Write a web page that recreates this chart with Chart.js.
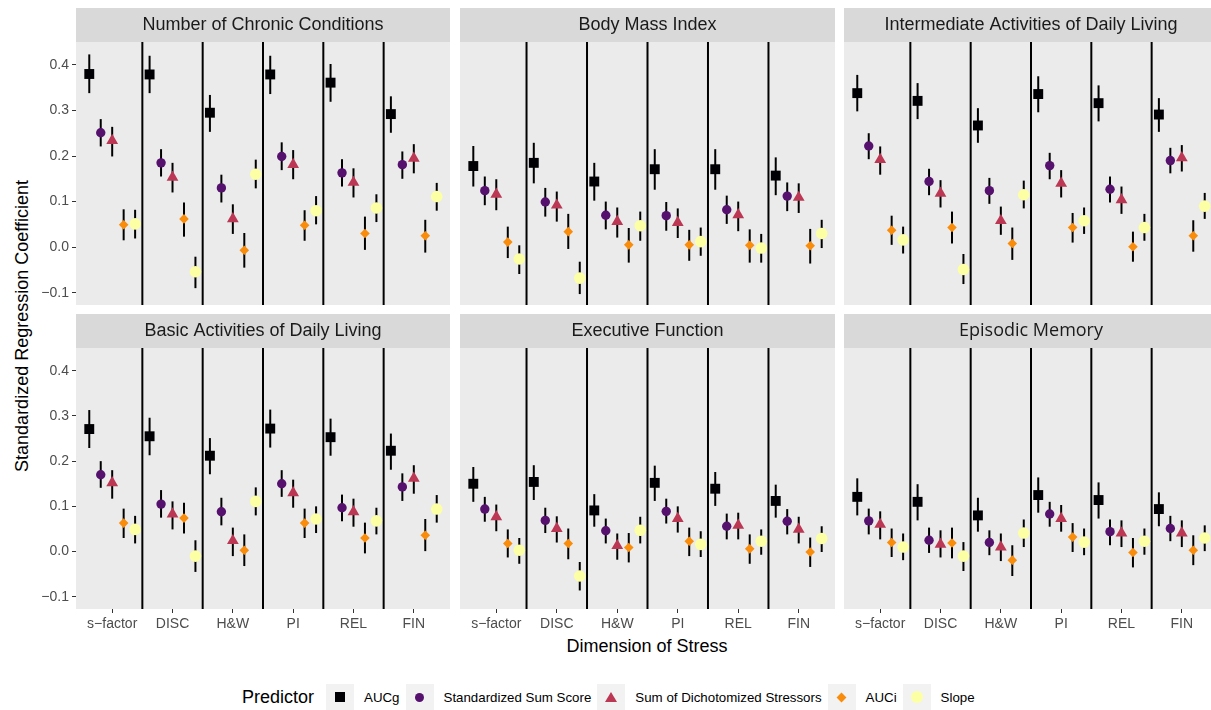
<!DOCTYPE html>
<html>
<head>
<meta charset="utf-8">
<script src="https://cdn.jsdelivr.net/npm/chart.js@4"></script>
<style>
  html, body { margin: 0; padding: 0; background: #fff; }
  body { width: 1211px; height: 710px; overflow: hidden; position: relative; font-family: 'Liberation Sans', Arial, sans-serif; }
  .panel { position: absolute; }
  .ytitle { position: absolute; left: 22px; top: 326px; transform: translate(-50%, -50%) rotate(-90deg); font-size: 18px; white-space: nowrap; color: #000; }
  .xtitle { position: absolute; left: 647px; top: 646px; transform: translate(-50%, -50%); font-size: 18px; white-space: nowrap; color: #000; }
  .legend { position: absolute; left: 242px; top: 684px; height: 26px; display: flex; align-items: center; font-size: 13.3px; color: #000; white-space: nowrap; }
  .legend .head { font-size: 18px; margin-right: 12px; }
  .legend .key { width: 28px; height: 26px; background: #f2f2f2; display: flex; align-items: center; justify-content: center; }
  .legend .lab { margin-left: 10px; margin-right: 6px; }
  .sq { width: 10px; height: 10px; background: #000004; }
  .ci { width: 9px; height: 9px; border-radius: 50%; background: #56106E; }
  .tr { width: 0; height: 0; border-left: 6px solid transparent; border-right: 6px solid transparent; border-bottom: 10px solid #BB3754; }
  .di { width: 7px; height: 7px; background: #F98C0A; transform: rotate(45deg); }
  .sl { width: 12px; height: 12px; border-radius: 50%; background: #FCFFA4; }
</style>
</head>
<body>
<div class="ytitle">Standardized Regression Coefficient</div>
<div class="xtitle">Dimension of Stress</div>
<div class="legend">
  <span class="head">Predictor</span>
  <span class="key"><span class="sq"></span></span><span class="lab">AUCg</span>
  <span class="key"><span class="ci"></span></span><span class="lab">Standardized Sum Score</span>
  <span class="key"><span class="tr"></span></span><span class="lab">Sum of Dichotomized Stressors</span>
  <span class="key"><span class="di"></span></span><span class="lab">AUCi</span>
  <span class="key"><span class="sl"></span></span><span class="lab">Slope</span>
</div>
<script>
const dimensions = ['s−factor', 'DISC', 'H&W', 'PI', 'REL', 'FIN'];
const predictors = ['AUCg', 'Standardized Sum Score', 'Sum of Dichotomized Stressors', 'AUCi', 'Slope'];
const outcomes = ['Number of Chronic Conditions', 'Body Mass Index', 'Intermediate Activities of Daily Living',
  'Basic Activities of Daily Living', 'Executive Function', 'Episodic Memory'];
const yTicks = [-0.1, 0, 0.1, 0.2, 0.3, 0.4];

// rows = predictors, columns = dimensions
const chronicEst = [
  [0.380, 0.379, 0.295, 0.379, 0.361, 0.292],
  [0.251, 0.185, 0.130, 0.199, 0.163, 0.181],
  [0.234, 0.153, 0.062, 0.181, 0.142, 0.195],
  [0.049, 0.062, -0.007, 0.048, 0.030, 0.025],
  [0.051, -0.054, 0.160, 0.080, 0.086, 0.111]
];
const chronicLo = [
  [0.338, 0.338, 0.253, 0.336, 0.319, 0.251],
  [0.221, 0.155, 0.098, 0.169, 0.133, 0.150],
  [0.199, 0.120, 0.029, 0.149, 0.109, 0.162],
  [0.015, 0.023, -0.045, 0.014, -0.006, -0.012],
  [0.019, -0.090, 0.129, 0.050, 0.055, 0.080]
];
const chronicHi = [
  [0.423, 0.420, 0.334, 0.420, 0.402, 0.331],
  [0.281, 0.215, 0.159, 0.230, 0.193, 0.210],
  [0.264, 0.185, 0.094, 0.213, 0.173, 0.226],
  [0.083, 0.098, 0.031, 0.081, 0.067, 0.060],
  [0.082, -0.021, 0.192, 0.112, 0.116, 0.141]
];

const bmiEst = [
  [0.178, 0.185, 0.144, 0.171, 0.171, 0.157],
  [0.124, 0.099, 0.070, 0.069, 0.082, 0.112],
  [0.116, 0.092, 0.056, 0.054, 0.071, 0.109],
  [0.011, 0.034, 0.005, 0.005, 0.004, 0.003],
  [-0.026, -0.068, 0.047, 0.012, -0.002, 0.030]
];
const bmiLo = [
  [0.133, 0.140, 0.102, 0.126, 0.126, 0.114],
  [0.092, 0.067, 0.039, 0.036, 0.051, 0.079],
  [0.081, 0.056, 0.021, 0.020, 0.035, 0.075],
  [-0.024, -0.004, -0.034, -0.030, -0.034, -0.036],
  [-0.059, -0.103, 0.014, -0.019, -0.034, -0.002]
];
const bmiHi = [
  [0.222, 0.229, 0.185, 0.215, 0.215, 0.197],
  [0.155, 0.130, 0.100, 0.099, 0.113, 0.142],
  [0.149, 0.122, 0.087, 0.085, 0.100, 0.140],
  [0.045, 0.073, 0.042, 0.038, 0.039, 0.040],
  [0.004, -0.032, 0.078, 0.043, 0.029, 0.060]
];

const iadlEst = [
  [0.338, 0.321, 0.267, 0.336, 0.316, 0.291],
  [0.222, 0.144, 0.124, 0.179, 0.127, 0.190],
  [0.192, 0.118, 0.058, 0.140, 0.104, 0.196],
  [0.037, 0.043, 0.008, 0.043, 0.001, 0.025],
  [0.016, -0.049, 0.115, 0.058, 0.043, 0.090]
];
const iadlLo = [
  [0.298, 0.281, 0.229, 0.296, 0.276, 0.253],
  [0.193, 0.114, 0.095, 0.149, 0.098, 0.162],
  [0.159, 0.087, 0.027, 0.109, 0.073, 0.166],
  [0.005, 0.008, -0.028, 0.010, -0.032, -0.010],
  [-0.014, -0.081, 0.085, 0.029, 0.014, 0.062]
];
const iadlHi = [
  [0.378, 0.360, 0.305, 0.375, 0.355, 0.327],
  [0.250, 0.172, 0.152, 0.207, 0.155, 0.218],
  [0.221, 0.147, 0.089, 0.169, 0.133, 0.224],
  [0.069, 0.078, 0.043, 0.075, 0.034, 0.059],
  [0.045, -0.015, 0.146, 0.087, 0.073, 0.119]
];

const badlEst = [
  [0.271, 0.255, 0.212, 0.272, 0.253, 0.223],
  [0.170, 0.105, 0.088, 0.150, 0.097, 0.143],
  [0.152, 0.083, 0.024, 0.130, 0.088, 0.162],
  [0.063, 0.074, 0.003, 0.063, 0.030, 0.036],
  [0.049, -0.010, 0.111, 0.072, 0.068, 0.094]
];
const badlLo = [
  [0.229, 0.213, 0.171, 0.230, 0.212, 0.181],
  [0.141, 0.075, 0.058, 0.121, 0.067, 0.112],
  [0.117, 0.049, -0.010, 0.097, 0.055, 0.128],
  [0.030, 0.040, -0.032, 0.030, -0.004, 0.001],
  [0.018, -0.045, 0.080, 0.041, 0.038, 0.064]
];
const badlHi = [
  [0.313, 0.296, 0.251, 0.314, 0.294, 0.261],
  [0.200, 0.136, 0.119, 0.180, 0.126, 0.173],
  [0.180, 0.111, 0.053, 0.159, 0.117, 0.191],
  [0.095, 0.108, 0.038, 0.095, 0.064, 0.072],
  [0.079, 0.025, 0.142, 0.100, 0.097, 0.125]
];

const execEst = [
  [0.150, 0.154, 0.091, 0.152, 0.139, 0.112],
  [0.094, 0.069, 0.046, 0.089, 0.056, 0.067],
  [0.077, 0.051, 0.013, 0.073, 0.058, 0.049],
  [0.018, 0.018, 0.009, 0.023, 0.006, -0.001],
  [0.003, -0.054, 0.047, 0.016, 0.023, 0.029]
];
const execLo = [
  [0.110, 0.114, 0.055, 0.112, 0.101, 0.075],
  [0.066, 0.041, 0.018, 0.062, 0.027, 0.038],
  [0.045, 0.020, -0.018, 0.042, 0.027, 0.018],
  [-0.013, -0.017, -0.024, -0.010, -0.027, -0.034],
  [-0.027, -0.086, 0.018, -0.012, -0.007, -0.001]
];
const execHi = [
  [0.187, 0.191, 0.127, 0.190, 0.176, 0.148],
  [0.121, 0.097, 0.073, 0.117, 0.084, 0.094],
  [0.104, 0.078, 0.040, 0.100, 0.086, 0.077],
  [0.049, 0.051, 0.041, 0.053, 0.038, 0.031],
  [0.030, -0.023, 0.077, 0.045, 0.049, 0.056]
];

const memoryEst = [
  [0.121, 0.110, 0.080, 0.125, 0.114, 0.094],
  [0.068, 0.025, 0.020, 0.083, 0.044, 0.051],
  [0.060, 0.016, 0.010, 0.073, 0.041, 0.041],
  [0.020, 0.019, -0.019, 0.032, -0.002, 0.003],
  [0.010, -0.010, 0.041, 0.021, 0.023, 0.030]
];
const memoryLo = [
  [0.080, 0.069, 0.044, 0.086, 0.073, 0.056],
  [0.038, -0.003, -0.008, 0.055, 0.014, 0.023],
  [0.027, -0.013, -0.021, 0.044, 0.010, 0.010],
  [-0.012, -0.015, -0.054, -0.001, -0.035, -0.030],
  [-0.019, -0.043, 0.010, -0.008, -0.007, 0.001]
];
const memoryHi = [
  [0.162, 0.149, 0.119, 0.164, 0.153, 0.131],
  [0.095, 0.053, 0.047, 0.110, 0.071, 0.079],
  [0.089, 0.047, 0.040, 0.103, 0.069, 0.069],
  [0.051, 0.053, 0.014, 0.063, 0.030, 0.036],
  [0.040, 0.021, 0.071, 0.051, 0.051, 0.058]
];

const allEst = [chronicEst, bmiEst, iadlEst, badlEst, execEst, memoryEst];
const allLo = [chronicLo, bmiLo, iadlLo, badlLo, execLo, memoryLo];
const allHi = [chronicHi, bmiHi, iadlHi, badlHi, execHi, memoryHi];

const dodge = [-0.38, -0.19, 0, 0.19, 0.38];
const colors = ['#000004', '#56106E', '#BB3754', '#F98C0A', '#FCFFA4'];
const shapes = ['rect', 'circle', 'triangle', 'rectRot', 'circle'];
const sizes = [7, 4.7, 6.8, 4.8, 5.8];

Chart.defaults.font.family = "'Liberation Sans', Arial, sans-serif";

const stripPlugin = {
  id: 'strip',
  beforeDraw(chart) {
    let ctx = chart.ctx;
    let a = chart.chartArea;
    ctx.save();
    ctx.fillStyle = '#ebebeb';
    ctx.fillRect(a.left, a.top, a.right - a.left, a.bottom - a.top);
    ctx.fillStyle = '#d9d9d9';
    ctx.fillRect(a.left, 0, a.right - a.left, a.top);
    ctx.restore();
  },
  beforeDatasetsDraw(chart) {
    let ctx = chart.ctx;
    let a = chart.chartArea;
    let xs = chart.scales.x;
    let ys = chart.scales.y;
    ctx.save();
    ctx.strokeStyle = '#000';
    ctx.lineWidth = 2;
    // separators between the dimensions
    for (let i = 1; i < dimensions.length; i++) {
      let px = xs.getPixelForValue(i + 0.5);
      ctx.beginPath();
      ctx.moveTo(px, a.top);
      ctx.lineTo(px, a.bottom);
      ctx.stroke();
    }
    // error bars
    chart.data.datasets.forEach((ds, j) => {
      let meta = chart.getDatasetMeta(j);
      ds.data.forEach((d, k) => {
        let px = meta.data[k].x;
        ctx.beginPath();
        ctx.moveTo(px, ys.getPixelForValue(d.lo));
        ctx.lineTo(px, ys.getPixelForValue(d.hi));
        ctx.stroke();
      });
    });
    ctx.restore();
  }
};

// no extra label padding around the panels
function noPad(s) {
  s.paddingTop = 0;
  s.paddingBottom = 0;
  s.paddingLeft = 0;
  s.paddingRight = 0;
}

// panel boxes: canvas position on the page
const boxes = [
  {left: 0, top: 8, w: 450, h: 297, yAxis: true, xAxis: false},
  {left: 460, top: 8, w: 375, h: 297, yAxis: false, xAxis: false},
  {left: 844, top: 8, w: 374, h: 297, yAxis: false, xAxis: false},
  {left: 0, top: 314, w: 450, h: 323, yAxis: true, xAxis: true},
  {left: 460, top: 314, w: 375, h: 323, yAxis: false, xAxis: true},
  {left: 844, top: 314, w: 374, h: 323, yAxis: false, xAxis: true}
];

for (let p = 0; p < 6; p++) {
  let b = boxes[p];
  let div = document.createElement('div');
  div.className = 'panel';
  div.style.left = b.left + 'px';
  div.style.top = b.top + 'px';
  div.style.width = b.w + 'px';
  div.style.height = b.h + 'px';
  let canvas = document.createElement('canvas');
  canvas.width = b.w;
  canvas.height = b.h;
  div.appendChild(canvas);
  document.body.appendChild(div);

  let datasets = [];
  for (let j = 0; j < predictors.length; j++) {
    datasets.push({
      label: predictors[j],
      data: dimensions.map((d, i) => ({x: i + 1 + dodge[j], y: allEst[p][j][i], lo: allLo[p][j][i], hi: allHi[p][j][i]})),
      pointStyle: shapes[j],
      pointRadius: sizes[j],
      backgroundColor: colors[j],
      borderColor: colors[j],
      borderWidth: 0
    });
  }

  new Chart(canvas, {
    type: 'scatter',
    data: {datasets: datasets},
    plugins: [stripPlugin],
    options: {
      responsive: false,
      animation: false,
      devicePixelRatio: 1,
      events: [],
      layout: {padding: 0, autoPadding: false},
      plugins: {
        legend: {display: false},
        tooltip: {enabled: false},
        title: {
          display: true,
          text: outcomes[p],
          fullSize: false,
          color: '#1a1a1a',
          font: {size: 18, weight: 'normal', family: p == 5 ? "'Open Sans', sans-serif" : "'Liberation Sans', Arial, sans-serif"},
          padding: {top: 6.5, bottom: 6}
        }
      },
      scales: {
        x: {
          type: 'linear',
          display: b.xAxis,
          min: 0.4,
          max: 6.6,
          afterBuildTicks: s => { s.ticks = dimensions.map((d, i) => ({value: i + 1})); },
          afterFit: s => { s.height = b.xAxis ? 28 : 0; noPad(s); },
          grid: {display: true, drawOnChartArea: false, drawTicks: true, tickLength: 4, color: '#333333'},
          border: {display: false},
          ticks: {
            autoSkip: false, maxRotation: 0, padding: 3, color: '#4d4d4d', font: {size: 14},
            callback: v => dimensions[Math.round(v) - 1]
          }
        },
        y: {
          display: b.yAxis,
          min: -0.127,
          max: 0.45,
          afterBuildTicks: s => { s.ticks = yTicks.map(v => ({value: v})); },
          afterFit: s => { s.width = b.yAxis ? 76 : 0; noPad(s); },
          grid: {display: true, drawOnChartArea: false, drawTicks: true, tickLength: 4, color: '#333333'},
          border: {display: false},
          ticks: {
            padding: 3, color: '#4d4d4d', font: {size: 14},
            callback: v => (v < -0.001 ? '−' : '') + Math.abs(v).toFixed(1)
          }
        }
      }
    }
  });
}
</script>
</body>
</html>
